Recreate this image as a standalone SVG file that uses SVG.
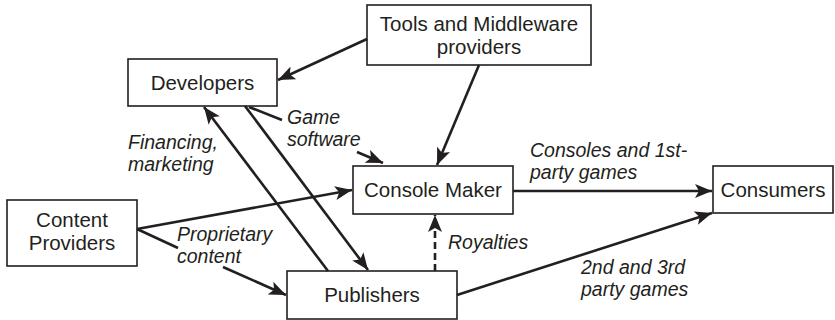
<svg xmlns="http://www.w3.org/2000/svg" width="835" height="320" viewBox="0 0 835 320">
<style>
.box{fill:#fff;stroke:#231f20;stroke-width:1.6}
.t{font-family:"Liberation Sans",Arial,sans-serif;font-size:20.5px;fill:#231f20;text-anchor:middle}
.l{font-family:"Liberation Sans",Arial,sans-serif;font-size:19.5px;font-style:italic;fill:#231f20}
.c{fill:none;stroke:#231f20;stroke-width:2.6}
.d{stroke-dasharray:7 4}
</style>
<defs>
<marker id="ah" markerUnits="userSpaceOnUse" markerWidth="18" markerHeight="14" viewBox="0 0 18 14" refX="17" refY="7" orient="auto">
<path d="M0,0 L17,7 L0,14 L4,7 z" fill="#231f20"/>
</marker>
</defs>
<rect width="835" height="320" fill="#fff"/>
<g id="tools"><rect class="box" x="367" y="5" width="224" height="60"/><text class="t" x="479" y="31">Tools and Middleware</text><text class="t" x="479" y="54">providers</text></g>
<g id="developers"><rect class="box" x="128" y="59" width="149" height="47"/><text class="t" x="202.5" y="90">Developers</text></g>
<g id="console"><rect class="box" x="353" y="166" width="160" height="48"/><text class="t" x="433" y="197">Console Maker</text></g>
<g id="consumers"><rect class="box" x="713" y="166" width="120" height="47"/><text class="t" x="773" y="197">Consumers</text></g>
<g id="content"><rect class="box" x="7" y="200" width="130" height="66"/><text class="t" x="72" y="227">Content</text><text class="t" x="72" y="250">Providers</text></g>
<g id="publishers"><rect class="box" x="287" y="271" width="170" height="48"/><text class="t" x="372" y="302">Publishers</text></g>
<g id="connectors">
<line class="c" x1="367" y1="39" x2="278" y2="80" marker-end="url(#ah)"/>
<line class="c" x1="479" y1="65" x2="437" y2="165" marker-end="url(#ah)"/>
<line class="c" x1="328" y1="271" x2="204" y2="107" marker-end="url(#ah)"/>
<line class="c" x1="245" y1="106" x2="368" y2="270" marker-end="url(#ah)"/>
<line class="c" x1="249" y1="107" x2="282" y2="120"/>
<line class="c" x1="357" y1="152" x2="383" y2="163" marker-end="url(#ah)"/>
<line class="c" x1="137" y1="229" x2="352" y2="190" marker-end="url(#ah)"/>
<line class="c" x1="137" y1="229" x2="178" y2="248"/>
<line class="c" x1="223" y1="267" x2="286" y2="295" marker-end="url(#ah)"/>
<line class="c" x1="513" y1="191" x2="712" y2="191" marker-end="url(#ah)"/>
<line class="c" x1="457" y1="295" x2="712" y2="213" marker-end="url(#ah)"/>
<line class="c d" x1="435" y1="271" x2="435" y2="215" marker-end="url(#ah)"/>
</g>
<g id="labels">
<text class="l" x="287" y="124">Game</text>
<text class="l" x="287" y="146">software</text>
<text class="l" x="128" y="149">Financing,</text>
<text class="l" x="128" y="171">marketing</text>
<text class="l" x="177" y="241">Proprietary</text>
<text class="l" x="177" y="263">content</text>
<text class="l" x="530" y="157">Consoles and 1st-</text>
<text class="l" x="530" y="179">party games</text>
<text class="l" x="448" y="249">Royalties</text>
<text class="l" x="581" y="274">2nd and 3rd</text>
<text class="l" x="581" y="296">party games</text>
</g>
</svg>
